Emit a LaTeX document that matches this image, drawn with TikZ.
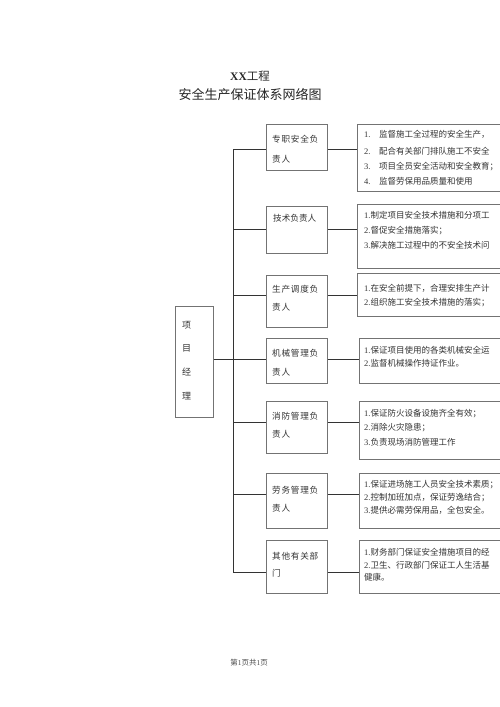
\documentclass[tikz,border=0pt]{standalone}
\usepackage{fontspec}
\setmainfont{Noto Sans CJK SC}
\newfontfamily\cjk{Noto Sans CJK SC}
\newfontfamily\cjksp[LetterSpace=9]{Noto Sans CJK SC}
\newfontfamily\latinserif{Liberation Serif}
\newcommand\nr[1]{{\latinserif #1}}
\begin{document}
\begin{tikzpicture}[x=1pt,y=-1pt,
  box/.style={draw=black!55, line width=0.6pt, inner sep=0pt, anchor=north west},
  midbox/.style={box, minimum width=61pt},
  rightbox/.style={box, minimum width=170pt},
  conn/.style={draw=black!80, line width=0.8pt},
  txt/.style={anchor=west, inner sep=0pt, text height=7.2pt, text depth=1.3pt, text=black!80, font=\cjk\fontsize{8.5}{10}\selectfont},
  pmtxt/.style={anchor=west, inner sep=0pt, text=black!80, font=\cjk\fontsize{9}{10}\selectfont},
  midtxt/.style={anchor=west, inner sep=0pt, text height=7.3pt, text depth=1.3pt, text=black!80, font=\cjksp\fontsize{8.6}{10}\selectfont},
  midtxtn/.style={anchor=west, inner sep=0pt, text height=7.3pt, text depth=1.3pt, text=black!80, font=\cjk\fontsize{8.6}{10}\selectfont}]
\fill[white] (0,0) rectangle (500,707);
\clip (0,0) rectangle (500,707);

% title
\node[inner sep=0pt, text=black!85, font=\fontsize{11.5}{12}\selectfont] (title) at (250,76) {{\latinserif\bfseries XX}工程};
\node[inner sep=0pt, text=black!85, font=\fontsize{13}{14}\selectfont] (sub) at (250,95) {安全生产保证体系网络图};

% left box
\node[box, minimum width=38pt, minimum height=111pt] (pm) at (175,306) {};
\node[pmtxt] (pm1) at (182,325) {项};
\node[pmtxt] (pm2) at (182,348) {目};
\node[pmtxt] (pm3) at (182,372) {经};
\node[pmtxt] (pm4) at (182,396) {理};

% middle boxes
\node[midbox, minimum height=46pt] (m1) at (266,124) {};
\node[midbox, minimum height=47pt] (m2) at (266,206) {};
\node[midbox, minimum height=52pt] (m3) at (266,275) {};
\node[midbox, minimum height=45pt] (m4) at (266,338) {};
\node[midbox, minimum height=52pt] (m5) at (266,401) {};
\node[midbox, minimum height=55pt] (m6) at (266,473) {};
\node[midbox, minimum height=53pt] (m7) at (266,540) {};

\node[midtxt] (m1a) at (272,139) {专职安全负};
\node[midtxt] (m1b) at (272,159) {责人};
\node[midtxtn] (m2a) at (273,218) {技术负责人};
\node[midtxt] (m3a) at (272,289) {生产调度负};
\node[midtxt] (m3b) at (272,307) {责人};
\node[midtxt] (m4a) at (272,353) {机械管理负};
\node[midtxt] (m4b) at (272,372) {责人};
\node[midtxt] (m5a) at (272,416) {消防管理负};
\node[midtxt] (m5b) at (272,434) {责人};
\node[midtxt] (m6a) at (272,490) {劳务管理负};
\node[midtxt] (m6b) at (272,508) {责人};
\node[midtxt] (m7a) at (272,556) {其他有关部};
\node[midtxt] (m7b) at (272,573) {门};

% right boxes
\node[rightbox, minimum height=67pt] (r1) at (357,124) {};
\node[rightbox, minimum height=64pt] (r2) at (357,204) {};
\node[rightbox, minimum height=43pt] (r3) at (357,273) {};
\node[rightbox, minimum height=45pt] (r4) at (359,338) {};
\node[rightbox, minimum height=58pt] (r5) at (359,401) {};
\node[rightbox, minimum height=55pt] (r6) at (359,473) {};
\node[rightbox, minimum height=53pt] (r7) at (359,540) {};

\node[txt] (r1n1) at (364,135) {\nr{1.}};
\node[txt] (r1l1) at (379,135) {监督施工全过程的安全生产，};
\node[txt] (r1n2) at (364,152) {\nr{2.}};
\node[txt] (r1l2) at (379,152) {配合有关部门排队施工不安全};
\node[txt] (r1n3) at (364,167) {\nr{3.}};
\node[txt] (r1l3) at (379,167) {项目全员安全活动和安全教育；};
\node[txt] (r1n4) at (364,182) {\nr{4.}};
\node[txt] (r1l4) at (379,182) {监督劳保用品质量和使用};

\node[txt] (r2l1) at (364,216) {\nr{1.}制定项目安全技术措施和分项工};
\node[txt] (r2l2) at (364,231) {\nr{2.}督促安全措施落实；};
\node[txt] (r2l3) at (364,246) {\nr{3.}解决施工过程中的不安全技术问};

\node[txt] (r3l1) at (364,289) {\nr{1.}在安全前提下，合理安排生产计};
\node[txt] (r3l2) at (364,303) {\nr{2.}组织施工安全技术措施的落实；};

\node[txt] (r4l1) at (364,351) {\nr{1.}保证项目使用的各类机械安全运};
\node[txt] (r4l2) at (364,364) {\nr{2.}监督机械操作持证作业。};

\node[txt] (r5l1) at (364,414) {\nr{1.}保证防火设备设施齐全有效；};
\node[txt] (r5l2) at (364,428) {\nr{2.}消除火灾隐患；};
\node[txt] (r5l3) at (364,443) {\nr{3.}负责现场消防管理工作};

\node[txt] (r6l1) at (364,485) {\nr{1.}保证进场施工人员安全技术素质；};
\node[txt] (r6l2) at (364,498) {\nr{2.}控制加班加点，保证劳逸结合；};
\node[txt] (r6l3) at (364,511) {\nr{3.}提供必需劳保用品，全包安全。};

\node[txt] (r7l1) at (364,553) {\nr{1.}财务部门保证安全措施项目的经};
\node[txt] (r7l2) at (364,566) {\nr{2.}卫生、行政部门保证工人生活基};
\node[txt] (r7l3) at (364,578) {健康。};

% trunk and branches
\coordinate (t1) at (233,149);
\coordinate (t2) at (233,229);
\coordinate (t3) at (233,295);
\coordinate (t4) at (233,359);
\coordinate (t5) at (233,422);
\coordinate (t6) at (233,494);
\coordinate (t7) at (233,572);
\draw[conn] (t1) -- (t7);
\draw[conn] (t4 -| pm.east) -- (t4);
\foreach \i in {1,...,7}{
  \draw[conn] (t\i) -- (t\i -| m\i.west);
  \draw[conn] (t\i -| m\i.east) -- (t\i -| r\i.west);
}

% footer
\node[inner sep=0pt, text=black!70, font=\fontsize{7.5}{8}\selectfont] (foot) at (249,663) {第\nr{1}页共\nr{1}页};
\end{tikzpicture}
\end{document}
